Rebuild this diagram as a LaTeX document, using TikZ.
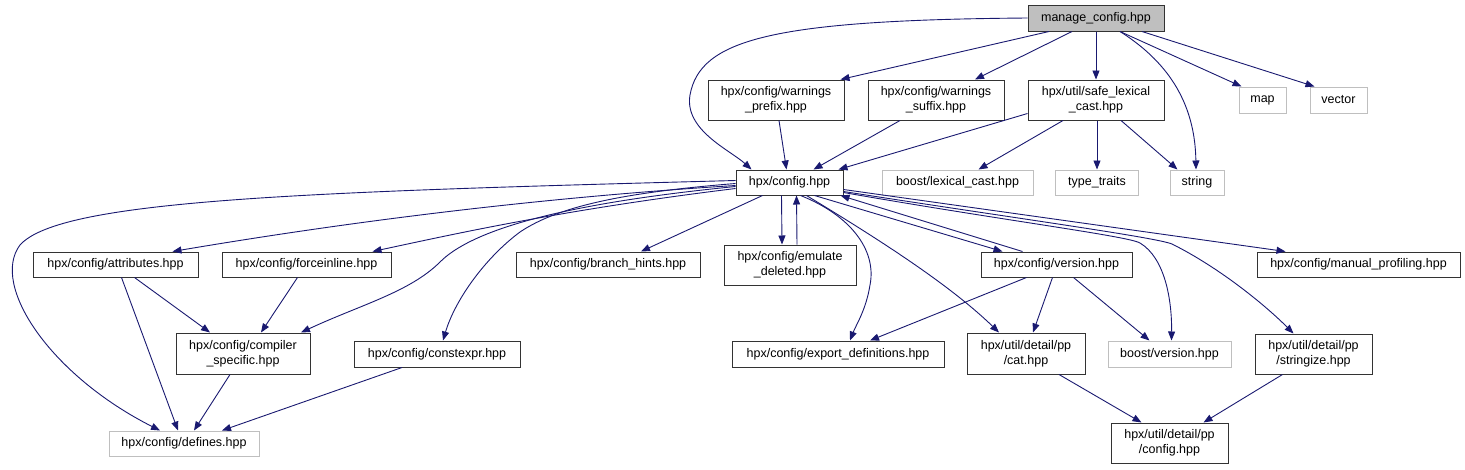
\documentclass[tikz,border=0pt]{standalone}
\usepackage{fontspec}
\setmainfont{Liberation Sans}
\usetikzlibrary{arrows.meta}
\definecolor{edgeblue}{HTML}{191970}
\definecolor{extgray}{HTML}{BFBFBF}
\tikzset{
  box/.style={draw=black!80, line width=1pt, rectangle, inner sep=0pt, align=center,
    font=\fontsize{12.5}{15}\selectfont, text=black},
  extbox/.style={box, draw=extgray},
  mainbox/.style={box, fill=extgray},
  dep/.style={draw=edgeblue, line width=0.9pt, -{Triangle[length=9pt,width=7pt]}, color=edgeblue},
}
\begin{document}
\begin{tikzpicture}[x=1pt,y=-1pt]
\useasboundingbox (0,0) rectangle (1465,469);
% nodes
\node[mainbox, minimum width=136pt, minimum height=26pt] (manage) at (1096,18) {manage\_config.hpp};
\node[box, minimum width=136pt, minimum height=40pt] (wprefix) at (776,100) {hpx/config/warnings\\\_prefix.hpp};
\node[box, minimum width=136pt, minimum height=40pt] (wsuffix) at (936,100) {hpx/config/warnings\\\_suffix.hpp};
\node[box, minimum width=136pt, minimum height=40pt] (safe) at (1096,100) {hpx/util/safe\_lexical\\\_cast.hpp};
\node[extbox, minimum width=47pt, minimum height=26pt] (map) at (1262.5,100) {map};
\node[extbox, minimum width=57pt, minimum height=26pt] (vector) at (1338.5,100) {vector};
\node[box, minimum width=107pt, minimum height=25pt] (config) at (789.5,182.5) {hpx/config.hpp};
\node[extbox, minimum width=151pt, minimum height=25pt] (lexcast) at (957.5,182.5) {boost/lexical\_cast.hpp};
\node[extbox, minimum width=83pt, minimum height=25pt] (typetraits) at (1097,182.5) {type\_traits};
\node[extbox, minimum width=54pt, minimum height=25pt] (string) at (1197,182.5) {string};
\node[box, minimum width=165pt, minimum height=25pt] (attributes) at (115.5,264.5) {hpx/config/attributes.hpp};
\node[box, minimum width=169pt, minimum height=25pt] (forceinline) at (306.5,264.5) {hpx/config/forceinline.hpp};
\node[box, minimum width=184pt, minimum height=25pt] (branch) at (608,264.5) {hpx/config/branch\_hints.hpp};
\node[box, minimum width=132pt, minimum height=40pt] (emulate) at (790,265) {hpx/config/emulate\\\_deleted.hpp};
\node[box, minimum width=151pt, minimum height=25pt] (version) at (1056.5,264.5) {hpx/config/version.hpp};
\node[box, minimum width=203pt, minimum height=25pt] (manual) at (1358.5,264.5) {hpx/config/manual\_profiling.hpp};
\node[box, minimum width=134pt, minimum height=41pt] (compiler) at (243,353.5) {hpx/config/compiler\\\_specific.hpp};
\node[box, minimum width=166pt, minimum height=26pt] (constexpr) at (437,354) {hpx/config/constexpr.hpp};
\node[box, minimum width=212pt, minimum height=26pt] (export) at (838,354) {hpx/config/export\_definitions.hpp};
\node[box, minimum width=118pt, minimum height=41pt] (cat) at (1026,353.5) {hpx/util/detail/pp\\/cat.hpp};
\node[extbox, minimum width=123pt, minimum height=26pt] (bversion) at (1169.5,354) {boost/version.hpp};
\node[box, minimum width=117pt, minimum height=40pt] (stringize) at (1313.5,354) {hpx/util/detail/pp\\/stringize.hpp};
\node[extbox, minimum width=150pt, minimum height=25pt] (defines) at (184,443.5) {hpx/config/defines.hpp};
\node[box, minimum width=117pt, minimum height=40pt] (ppconfig) at (1169.5,443) {hpx/util/detail/pp\\/config.hpp};
% edges from manage_config
\draw[dep] (manage.west) .. controls (770,20) and (700,40) .. (690,95) .. controls (684,130) and (730,150) .. ([xshift=-38pt]config.north);
\draw[dep] ([xshift=-47pt]manage.south) -- ([xshift=-4pt]wprefix.north east);
\draw[dep] ([xshift=-24pt]manage.south) -- ([xshift=39pt]wsuffix.north);
\draw[dep] (manage.south) -- (safe.north);
\draw[dep] ([xshift=24pt]manage.south) .. controls (1165,60) and (1195,100) .. ([xshift=-1pt]string.north);
\draw[dep] ([xshift=24pt]manage.south) -- ([xshift=3pt]map.north west);
\draw[dep] ([xshift=46pt]manage.south) -- ([xshift=-24pt]vector.north);
% second row
\draw[dep] ([xshift=3pt]wprefix.south) -- ([xshift=-3pt]config.north);
\draw[dep] ([xshift=-36pt]wsuffix.south) -- ([xshift=24pt]config.north);
\draw[dep] ([yshift=7pt]safe.south west) -- ([xshift=-5pt]config.north east);
\draw[dep] ([xshift=-33pt]safe.south) -- ([xshift=21pt]lexcast.north);
\draw[dep] ([xshift=1pt]safe.south) -- ([xshift=0pt]typetraits.north);
\draw[dep] ([xshift=25pt]safe.south) -- ([xshift=8pt]string.north west);
% from hpx/config.hpp
\draw[dep] ([yshift=2pt]config.west) .. controls (300,192) and (60,200) .. (20,245) .. controls (-10,285) and (50,375) .. ([xshift=-24pt]defines.north);
\draw[dep] ([yshift=-3pt]config.west) .. controls (500,200) and (300,230) .. ([xshift=57pt]attributes.north);
\draw[dep] ([yshift=-6pt]config.west) .. controls (560,210) and (450,235) .. ([xshift=66pt]forceinline.north);
\draw[dep] ([yshift=-4pt]config.west) .. controls (600,200) and (480,222) .. (440,262) .. controls (410,292) and (360,305) .. ([xshift=58pt]compiler.north);
\draw[dep] ([yshift=-1pt]config.west) .. controls (630,192) and (560,205) .. (520,232) .. controls (485,258) and (455,300) .. ([xshift=6pt]constexpr.north);
\draw[dep] ([xshift=-27pt]config.south) -- ([xshift=33pt]branch.north);
\draw[dep] ([xshift=-8pt]config.south) -- ([xshift=-8pt]emulate.north);
\draw[dep] ([xshift=7pt]emulate.north) -- ([xshift=7pt]config.south);
\draw[dep] ([xshift=11pt]config.south) .. controls (850,215) and (877,250) .. (870,285) .. controls (866,310) and (856,325) .. ([xshift=12pt]export.north);
\draw[dep] ([xshift=17pt]config.south) .. controls (880,240) and (950,285) .. ([xshift=-27pt]cat.north);
\draw[dep] ([xshift=25pt]config.south) -- ([xshift=-54pt]version.north);
\draw[dep] ([xshift=-34pt]version.north) -- ([xshift=-3pt]config.south east);
\draw[dep] ([yshift=3pt]config.south east) .. controls (1000,220) and (1128,236) .. (1140,243) .. controls (1165,258) and (1172,300) .. ([xshift=2pt]bversion.north);
\draw[dep] ([yshift=4pt]config.south east) .. controls (1000,216) and (1155,237) .. (1172,244) .. controls (1220,268) and (1265,305) .. ([xshift=-20pt]stringize.north);
\draw[dep] ([yshift=6pt]config.south east) -- ([xshift=-73pt]manual.north);
% lower levels
\draw[dep] ([xshift=19pt]attributes.south) -- ([xshift=-33pt]compiler.north);
\draw[dep] ([xshift=6pt]attributes.south) -- ([xshift=-6pt]defines.north);
\draw[dep] ([xshift=-9pt]forceinline.south) -- ([xshift=18pt]compiler.north);
\draw[dep] ([xshift=-13pt]compiler.south) -- ([xshift=10pt]defines.north);
\draw[dep] ([xshift=-35pt]constexpr.south) -- ([xshift=38pt]defines.north);
\draw[dep] ([xshift=-30pt]version.south) -- ([xshift=32pt]export.north);
\draw[dep] ([xshift=-4pt]version.south) -- ([xshift=7pt]cat.north);
\draw[dep] ([xshift=17pt]version.south) -- ([xshift=-20pt]bversion.north);
\draw[dep] ([xshift=33pt]cat.south) -- ([xshift=-28pt]ppconfig.north);
\draw[dep] ([xshift=-31pt]stringize.south) -- ([xshift=34pt]ppconfig.north);
\end{tikzpicture}
\end{document}
